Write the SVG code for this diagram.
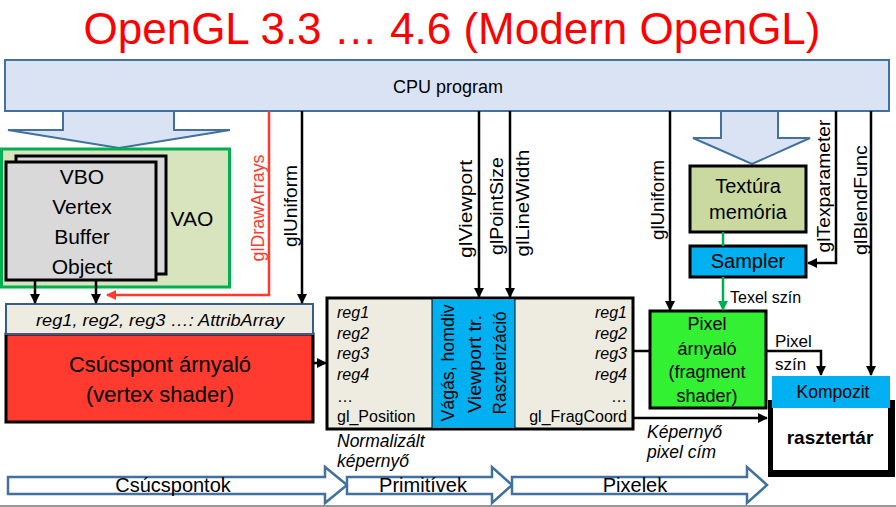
<svg xmlns="http://www.w3.org/2000/svg" width="896" height="507" viewBox="0 0 896 507">
<defs>
<marker id="ab" markerUnits="userSpaceOnUse" markerWidth="11" markerHeight="11" refX="9" refY="5" orient="auto"><path d="M0,0 L10,5 L0,10 z" fill="#000"/></marker>
<marker id="ar" markerUnits="userSpaceOnUse" markerWidth="11" markerHeight="11" refX="9" refY="5" orient="auto"><path d="M0,0 L10,5 L0,10 z" fill="#ff3b30"/></marker>
<marker id="ag" markerUnits="userSpaceOnUse" markerWidth="11" markerHeight="11" refX="9" refY="5" orient="auto"><path d="M0,0 L10,5 L0,10 z" fill="#00b050"/></marker>
</defs>
<style>
text{font-family:"Liberation Sans",Arial,sans-serif;fill:#000}
.rot{font-size:19px;text-anchor:middle;dominant-baseline:central}
.c{text-anchor:middle}
.it{font-style:italic}
.blk{fill:none;stroke:#000;stroke-width:2.5}
.bigarrow{fill:#dae3f3;stroke:#41719c;stroke-width:2}
.flow{fill:#fff;stroke:#41719c;stroke-width:2.5}
.box{stroke:#000;stroke-width:3}
</style>
<rect width="896" height="507" fill="#fff"/>
<text x="452" y="44" class="c" style="font-size:44px;fill:#ff0000" textLength="737" lengthAdjust="spacingAndGlyphs">OpenGL 3.3 … 4.6 (Modern OpenGL)</text>

<g id="cpu">
<rect x="5" y="60" width="884" height="51" fill="#dae3f3" stroke="#41719c" stroke-width="2"/>
<text x="448" y="93" class="c" style="font-size:18px">CPU program</text>
</g>

<g id="bigarrow-left"><polygon class="bigarrow" points="63,111 174,111 174,130 230,130 119,148 8,130 63,130"/></g>
<g id="bigarrow-right"><polygon class="bigarrow" points="721,111 778,111 778,138 810,138 752,164 693,138 721,138"/></g>

<g id="vao">
<rect x="1.5" y="149" width="228" height="138" fill="#d7e4bd" stroke="#00b050" stroke-width="3"/>
<text x="192" y="226" class="c" style="font-size:21px">VAO</text>
</g>
<g id="vbo">
<rect x="16" y="156" width="150" height="118" fill="#d9d9d9" class="box"/>
<rect x="6" y="162" width="150" height="118" fill="#d9d9d9" class="box"/>
<text class="c" style="font-size:21px"><tspan x="82" y="184">VBO</tspan><tspan x="82" y="214">Vertex</tspan><tspan x="82" y="244">Buffer</tspan><tspan x="82" y="274">Object</tspan></text>
</g>

<g id="vertex-shader">
<rect x="6" y="334" width="307" height="88" fill="#ff3b2f" class="box"/>
<rect x="6" y="304" width="307" height="30" fill="#eeece1" stroke="#385d8a" stroke-width="2"/>
<text x="160" y="326" class="c it" style="font-size:17px" textLength="248" lengthAdjust="spacingAndGlyphs">reg1, reg2, reg3 …: AttribArray</text>
<text class="c" style="font-size:22px"><tspan x="160" y="372">Csúcspont árnyaló</tspan><tspan x="160" y="402">(vertex shader)</tspan></text>
</g>

<g id="raster">
<rect x="327" y="298" width="306" height="131" fill="#eeece1" class="box"/>
<rect x="432" y="299.5" width="83" height="128" fill="#00b0f0"/>
<line x1="432" y1="298" x2="432" y2="429" stroke="#000" stroke-width="1"/>
<line x1="515" y1="298" x2="515" y2="429" stroke="#000" stroke-width="1"/>
<text style="font-size:16px"><tspan x="337" y="318" class="it">reg1</tspan><tspan x="337" y="339" class="it">reg2</tspan><tspan x="337" y="359" class="it">reg3</tspan><tspan x="337" y="380" class="it">reg4</tspan><tspan x="337" y="402">…</tspan><tspan x="337" y="422">gl_Position</tspan></text>
<text style="font-size:16px;text-anchor:end"><tspan x="627" y="318" class="it">reg1</tspan><tspan x="627" y="339" class="it">reg2</tspan><tspan x="627" y="359" class="it">reg3</tspan><tspan x="627" y="380" class="it">reg4</tspan><tspan x="627" y="402">…</tspan><tspan x="627" y="422">gl_FragCoord</tspan></text>
<text class="rot" transform="translate(448,363) rotate(-90)" style="font-size:18px" textLength="117" lengthAdjust="spacingAndGlyphs">Vágás, homdiv</text>
<text class="rot" transform="translate(475,364) rotate(-90)" style="font-size:18px" textLength="98" lengthAdjust="spacingAndGlyphs">Viewport tr.</text>
<text class="rot" transform="translate(500,363) rotate(-90)" style="font-size:18px" textLength="103" lengthAdjust="spacingAndGlyphs">Raszterizáció</text>
<text class="it" style="font-size:17.5px"><tspan x="337" y="447">Normalizált</tspan><tspan x="337" y="467">képernyő</tspan></text>
</g>

<g id="texture">
<rect x="690" y="166" width="116" height="66" fill="#c9d9a0" class="box"/>
<text class="c" style="font-size:20px"><tspan x="748" y="193">Textúra</tspan><tspan x="748" y="219">memória</tspan></text>
</g>
<g id="sampler">
<rect x="690" y="246" width="116" height="31" fill="#00b0f0" class="box"/>
<text x="748" y="268" class="c" style="font-size:20px">Sampler</text>
</g>

<g id="fragment-shader">
<rect x="650" y="311" width="116" height="97" fill="#33f033" class="box"/>
<text class="c" style="font-size:18px"><tspan x="707" y="330">Pixel</tspan><tspan x="707" y="355">árnyaló</tspan><tspan x="707" y="378">(fragment</tspan><tspan x="707" y="402">shader)</tspan></text>
</g>

<g id="framebuffer">
<rect x="768" y="400" width="127" height="77" fill="#000"/>
<rect x="773" y="400" width="115" height="70" fill="#fff"/>
<rect x="772" y="376" width="118" height="32" fill="#00b0f0"/>
<text x="833" y="398" class="c" style="font-size:17.5px">Kompozit</text>
<text x="830" y="444" class="c" style="font-size:19px;font-weight:bold">rasztertár</text>
</g>

<g id="connectors">
<path class="blk" d="M35,280 V303" marker-end="url(#ab)"/>
<path class="blk" d="M96,280 V303" marker-end="url(#ab)"/>
<path d="M269,111 V295 H107" fill="none" stroke="#ff3b30" stroke-width="2.5" marker-end="url(#ar)"/>
<path class="blk" d="M302,111 V303" marker-end="url(#ab)"/>
<path class="blk" d="M313,363 H326" marker-end="url(#ab)"/>
<path class="blk" d="M479,111 V297" marker-end="url(#ab)"/>
<path class="blk" d="M510,111 V297" marker-end="url(#ab)"/>
<path class="blk" d="M670,111 V310" marker-end="url(#ab)"/>
<path d="M723,232 V246" fill="none" stroke="#00b050" stroke-width="2.5"/>
<path d="M723,277 V310" fill="none" stroke="#00b050" stroke-width="2.5" marker-end="url(#ag)"/>
<path class="blk" d="M836,111 V263 H808" marker-end="url(#ab)"/>
<path class="blk" d="M871,111 V375" marker-end="url(#ab)"/>
<path class="blk" d="M633,351 H650"/>
<path class="blk" d="M766,351 H821 V375" marker-end="url(#ab)"/>
<path class="blk" d="M633,418 H767" marker-end="url(#ab)"/>
</g>

<g id="labels">
<text class="rot" transform="translate(257,208) rotate(-90)" style="fill:#ff3b30" textLength="107" lengthAdjust="spacingAndGlyphs">glDrawArrays</text>
<text class="rot" transform="translate(290,206) rotate(-90)" textLength="82" lengthAdjust="spacingAndGlyphs">glUniform</text>
<text class="rot" transform="translate(465,209) rotate(-90)" textLength="98" lengthAdjust="spacingAndGlyphs">glViewport</text>
<text class="rot" transform="translate(496,206) rotate(-90)" textLength="98" lengthAdjust="spacingAndGlyphs">glPointSize</text>
<text class="rot" transform="translate(522,203) rotate(-90)" textLength="107" lengthAdjust="spacingAndGlyphs">glLineWidth</text>
<text class="rot" transform="translate(657,200) rotate(-90)" textLength="80" lengthAdjust="spacingAndGlyphs">glUniform</text>
<text class="rot" transform="translate(823,186) rotate(-90)" textLength="133" lengthAdjust="spacingAndGlyphs">glTexparameter</text>
<text class="rot" transform="translate(860,200) rotate(-90)" textLength="110" lengthAdjust="spacingAndGlyphs">glBlendFunc</text>
<text x="730" y="303" style="font-size:16px">Texel szín</text>
<text style="font-size:17px"><tspan x="775" y="347">Pixel</tspan><tspan x="775" y="370">szín</tspan></text>
<text class="it" style="font-size:17.5px"><tspan x="647" y="438">Képernyő</tspan><tspan x="647" y="458">pixel cím</tspan></text>
</g>

<g id="flow">
<polygon class="flow" points="8,477 325,477 325,467 347,485 325,503 325,494 8,494"/>
<polygon class="flow" points="347,477 492,477 492,467 512,485 492,503 492,494 347,494"/>
<polygon class="flow" points="512,477 747,477 747,467 767,485 747,503 747,494 512,494"/>
<text class="c" style="font-size:20px"><tspan x="173" y="492">Csúcspontok</tspan><tspan x="423" y="492">Primitívek</tspan><tspan x="635" y="492">Pixelek</tspan></text>
</g>
<line x1="0" y1="506" x2="896" y2="506" stroke="#333" stroke-width="1"/>
</svg>
